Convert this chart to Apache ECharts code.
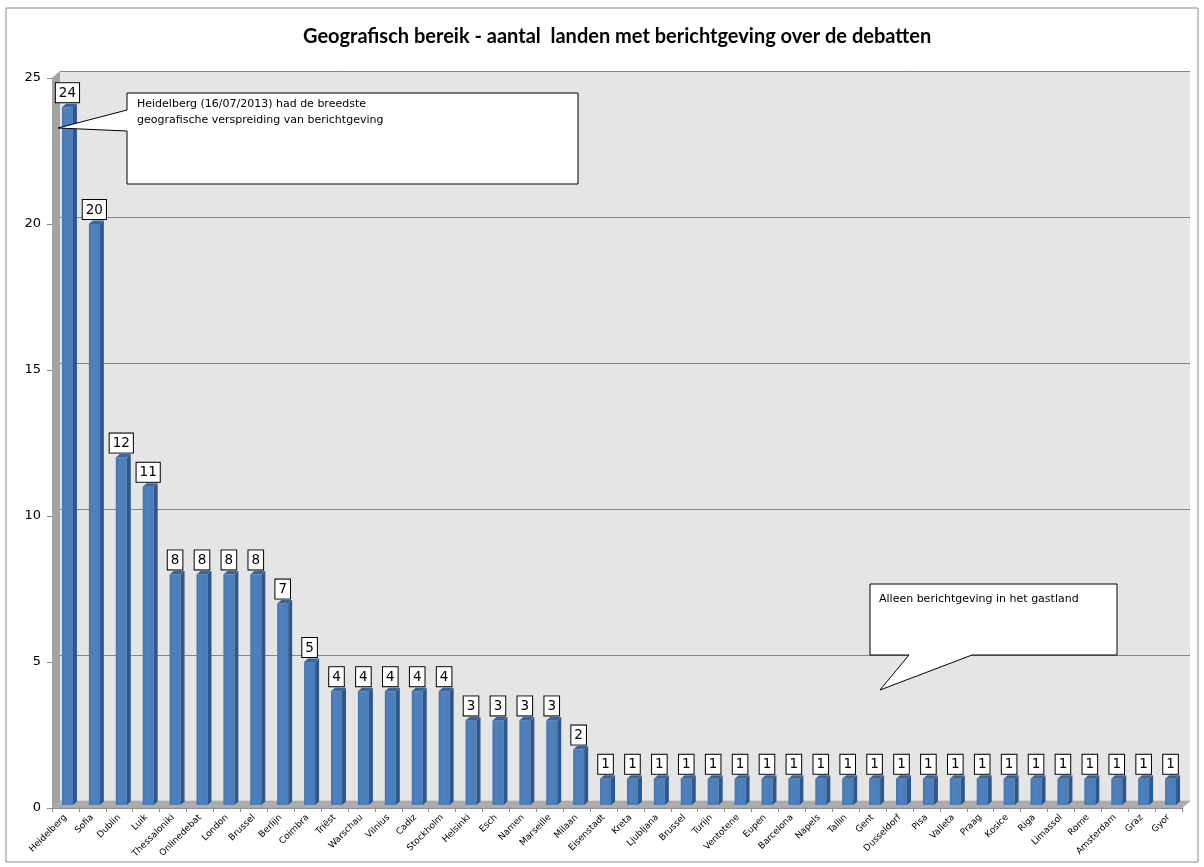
<!DOCTYPE html>
<html><head><meta charset="utf-8">
<script src="https://cdn.jsdelivr.net/npm/echarts@6/dist/echarts.min.js"></script>
<style>html,body{margin:0;padding:0;background:#fff}#c{width:1204px;height:867px}</style>
</head><body><div id="c"></div>
<script>
const categories = ['Heidelberg','Sofia','Dublin','Luik','Thessaloniki','Onlinedebat','London','Brussel','Berlijn','Coimbra','Triëst','Warschau','Vilnius','Cadiz','Stockholm','Helsinki','Esch','Namen','Marseille','Milaan','Eisenstadt','Kreta','Ljubljana','Brussel','Turijn','Ventotene','Eupen','Barcelona','Napels','Tallin','Gent','Dusseldorf','Pisa','Valleta','Praag','Kosice','Riga','Limassol','Rome','Amsterdam','Graz','Gyor'];
const values = [24,20,12,11,8,8,8,8,7,5,4,4,4,4,4,3,3,3,3,2,1,1,1,1,1,1,1,1,1,1,1,1,1,1,1,1,1,1,1,1,1,1];
const yMin = 0, yMax = 25, yStep = 5;
const titleText = 'Geografisch bereik - aantal  landen met berichtgeving over de debatten';
const note1Lines = ['Heidelberg (16/07/2013) had de breedste', 'geografische verspreiding van berichtgeving'];
const note2Lines = ['Alleen berichtgeving in het gastland'];

const G = {left: 52, top: 78, width: 1130, height: 730};
const D = {dx: 8, dy: -7};
const chart = echarts.init(document.getElementById('c'));

const option = {
  animation: false,
  backgroundColor: '#ffffff',
  title: {
    text: titleText, left: 298, top: 22,
    textStyle: {fontFamily: 'Lato', fontWeight: 'bold', fontSize: 20, color: '#000'}
  },
  grid: [
    {left: G.left + D.dx, top: G.top + D.dy, width: G.width, height: G.height, show: true, backgroundColor: '#E5E5E5', borderWidth: 0},
    {left: G.left, top: G.top, width: G.width, height: G.height}
  ],
  xAxis: [
    {gridIndex: 0, type: 'category', data: categories, show: false},
    {gridIndex: 1, type: 'category', data: categories,
     axisLine: {lineStyle: {color: '#8c8c8c'}},
     axisTick: {show: true, length: 4, interval: 0, lineStyle: {color: '#8c8c8c'}},
     axisLabel: {interval: 0, rotate: 45, fontFamily: 'DejaVu Sans', fontSize: 9, color: '#000', margin: 8}}
  ],
  yAxis: [
    {gridIndex: 0, type: 'value', min: yMin, max: yMax, interval: yStep, axisLabel: {show: false}, axisLine: {show: false}, axisTick: {show: false},
     splitLine: {lineStyle: {color: '#868686', width: 1}}},
    {gridIndex: 1, type: 'value', min: yMin, max: yMax, interval: yStep,
     axisLabel: {fontFamily: 'DejaVu Sans', fontSize: 13, color: '#000', margin: 11},
     axisLine: {show: false}, axisTick: {show: true, length: 5, lineStyle: {color: '#8c8c8c'}}, splitLine: {show: false}}
  ],
  series: [{
    type: 'custom', xAxisIndex: 1, yAxisIndex: 1,
    data: values.map((v, i) => [i, v]),
    renderItem: function (params, api) {
      const i = api.value(0), v = api.value(1);
      const b = api.coord([i, 0]);
      const t = api.coord([i, v]);
      const cx = b[0];
      const x0 = cx - 3.5, x1 = cx + 7.5, dx = 4, dy = -3.5;
      const base = b[1] - 3;
      const top = t[1];
      return {
        type: 'group',
        children: [
          {type: 'rect', shape: {x: x0, y: top, width: x1 - x0, height: base - top},
           style: {fill: {type: 'linear', x: 0, y: 0, x2: 1, y2: 0, colorStops: [{offset: 0, color: '#4276B4'}, {offset: 0.3, color: '#4F81BD'}, {offset: 1, color: '#4A7DBA'}]}}},
          {type: 'polygon', shape: {points: [[x1, top], [x1 + dx, top + dy], [x1 + dx, base + dy], [x1, base]]},
           style: {fill: '#2F578A'}},
          {type: 'polygon', shape: {points: [[x0, top], [x0 + dx, top + dy], [x1 + dx, top + dy], [x1, top]]},
           style: {fill: '#3A659C'}},
          {type: 'text', x: cx + 2, y: top - 5,
           style: {text: String(v), align: 'center', verticalAlign: 'bottom', fontFamily: 'DejaVu Sans', fontSize: 13.5, fill: '#000',
                   backgroundColor: '#fff', borderColor: '#000', borderWidth: 1, padding: [3, 3, 2, 3]}}
        ]
      };
    }
  }],
  graphic: [
    {type: 'rect', z: -10, shape: {x: 6, y: 8, width: 1192, height: 854}, style: {fill: 'none', stroke: '#8a8a8a', lineWidth: 1}},
    {type: 'polygon', z: 1, shape: {points: [[G.left, G.top + G.height], [G.left, G.top], [G.left + D.dx, G.top + D.dy], [G.left + D.dx, G.top + G.height + D.dy]]},
     style: {fill: '#A3A3A3'}},
    {type: 'polygon', z: 1, shape: {points: [[G.left, G.top + G.height], [G.left + G.width, G.top + G.height], [G.left + G.width + D.dx, G.top + G.height + D.dy], [G.left + D.dx, G.top + G.height + D.dy]]},
     style: {fill: '#ADADAD', stroke: '#999', lineWidth: 0.5}},
    {type: 'polygon', z: 100, shape: {points: [[127, 93], [578, 93], [578, 184], [127, 184], [127, 131], [58, 128], [127, 110]]},
     style: {fill: '#fff', stroke: '#000', lineWidth: 1}},
    {type: 'text', z: 101, x: 137, y: 96, style: {text: note1Lines.join('\n'), fontFamily: 'DejaVu Sans', fontSize: 11, lineHeight: 16, fill: '#000'}},
    {type: 'polygon', z: 100, shape: {points: [[870, 584], [1117, 584], [1117, 655], [972, 655], [880, 690], [909, 655], [870, 655]]},
     style: {fill: '#fff', stroke: '#000', lineWidth: 1}},
    {type: 'text', z: 101, x: 879, y: 591, style: {text: note2Lines.join('\n'), fontFamily: 'DejaVu Sans', fontSize: 11, lineHeight: 16, fill: '#000'}}
  ]
};
chart.setOption(option);
</script>
</body></html>
